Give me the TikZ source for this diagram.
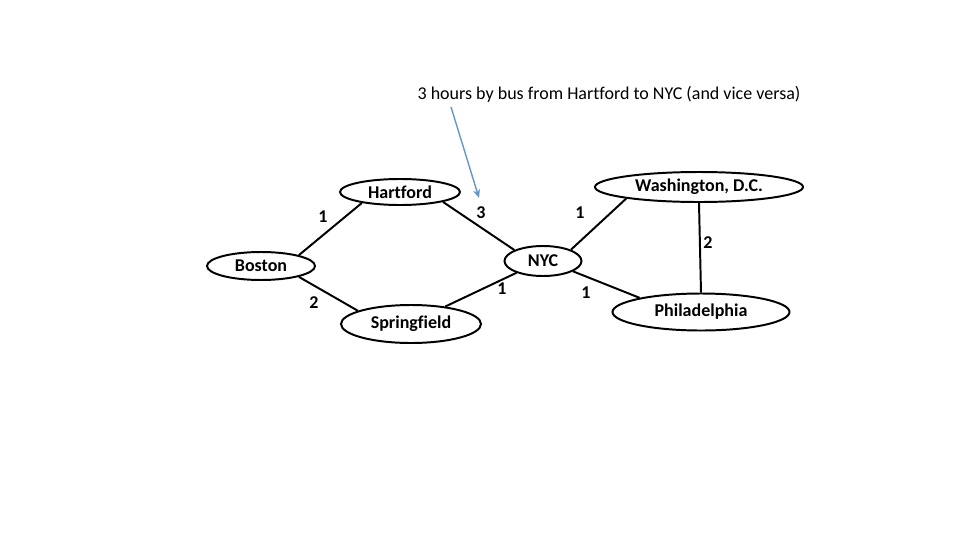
\documentclass[tikz,border=0pt]{standalone}
\usepackage{fontspec}
\setmainfont[Ligatures=CommonOff]{Carlito}
\definecolor{NoteBlue}{RGB}{100,150,200}
\usetikzlibrary{shapes.geometric, arrows.meta}

\begin{document}
\begin{tikzpicture}[
    x=0.025cm, y=-0.025cm,
    city/.style={ellipse, draw=black, line width=1.4pt, inner sep=0pt, font=\fontsize{12.8}{15}\selectfont\bfseries},
    road/.style={line width=1.4pt, black},
    wt/.style={font=\fontsize{12.8}{15}\selectfont\bfseries}
]
    \useasboundingbox (0,0) rectangle (960,540);
    % cities
    \node[city, minimum width=120*0.025cm, minimum height=26*0.025cm] (hart) at (400,192) {Hartford};
    \node[city, minimum width=108*0.025cm, minimum height=28*0.025cm] (bos) at (261,266) {Boston};
    \node[city, minimum width=140*0.025cm, minimum height=38*0.025cm] (spr) at (411,324) {Springfield};
    \node[city, minimum width=77*0.025cm, minimum height=30*0.025cm] (nyc) at (543,261) {NYC};
    \node[city, minimum width=208*0.025cm, minimum height=30*0.025cm] (wash) at (699,187) {Washington, D.C.};
    \node[city, minimum width=177*0.025cm, minimum height=37*0.025cm] (phil) at (701,312) {Philadelphia};
    % roads
    \draw[road] (bos.16) -- (hart.196);
    \draw[road] (bos.-16) -- (spr.166);
    \draw[road] (hart.-13) -- (nyc.159);
    \draw[road] (spr.27) -- (nyc.204);
    \draw[road] (nyc.22) -- (wash.189);
    \draw[road] (nyc.-19) -- (phil.167);
    \draw[road] (wash.south) -- (phil.north);
    % weights
    \node[wt] (w1) at (323,217) {1};
    \node[wt] (w2) at (314,303) {2};
    \node[wt] (w3) at (481,213) {3};
    \node[wt] (w4) at (502,289) {1};
    \node[wt] (w5) at (580,213) {1};
    \node[wt] (w6) at (586,293) {1};
    \node[wt] (w7) at (708,243) {2};
    % note
    \node[font=\fontsize{12.8}{15}\selectfont] (note) at (609,94) {3 hours by bus from Hartford to NYC (and vice versa)};
    \coordinate (tail) at (451,107);
    \coordinate (tip) at (479,198);
    \draw[-{Stealth[length=6pt,width=5pt]}, NoteBlue, line width=1pt] (tail) -- (tip);
\end{tikzpicture}
\end{document}
